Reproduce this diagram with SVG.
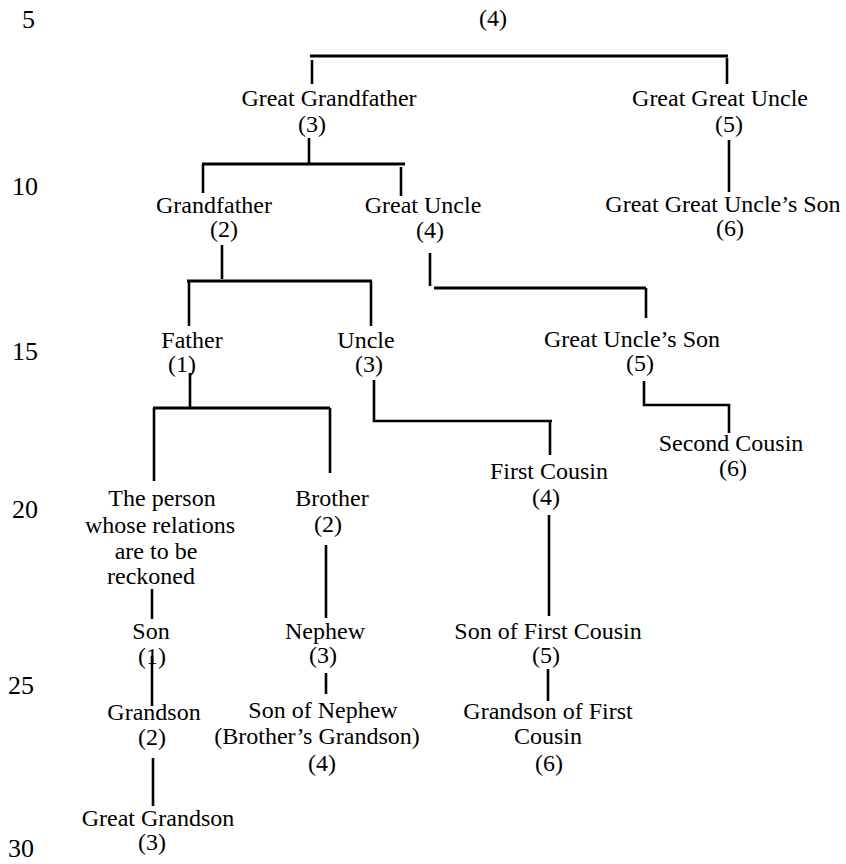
<svg xmlns="http://www.w3.org/2000/svg" width="846" height="864" viewBox="0 0 846 864">
<style>
.l{font-family:"Liberation Serif","Times New Roman",serif;font-size:24px;fill:#000;text-anchor:middle}
.n{font-family:"Liberation Serif","Times New Roman",serif;font-size:26px;fill:#000}
.c{stroke:#000;stroke-width:2.6;fill:none;stroke-linecap:butt}
.b{stroke-width:3.2}
</style>
<rect width="846" height="864" fill="#fff"/>
<g id="line-numbers">
<text class="n" x="22" y="28">5</text>
<text class="n" x="12" y="195">10</text>
<text class="n" x="12" y="360">15</text>
<text class="n" x="12" y="518">20</text>
<text class="n" x="8" y="694">25</text>
<text class="n" x="8" y="857">30</text>
</g>
<g id="connectors">
<path class="c b" d="M310,56 H728"/>
<path class="c" d="M312,60 V84"/>
<path class="c" d="M727,58 V84"/>
<path class="c" d="M309,138 V164"/>
<path class="c b" d="M202,164 H405"/>
<path class="c" d="M203,164 V193"/>
<path class="c" d="M401,167 V196"/>
<path class="c" d="M729,140 V192"/>
<path class="c" d="M222,245 V279"/>
<path class="c b" d="M187,281 H372"/>
<path class="c" d="M189,281 V326"/>
<path class="c" d="M371,281 V326"/>
<path class="c" d="M430,253 V286"/>
<path class="c b" d="M434,288 H646"/>
<path class="c" d="M646,288 V318"/>
<path class="c" d="M190,373 V408"/>
<path class="c b" d="M153,408 H330"/>
<path class="c" d="M154,408 V481"/>
<path class="c" d="M330,408 V473"/>
<path class="c" d="M374,380 V421 H552"/>
<path class="c" d="M550,421 V455"/>
<path class="c" d="M644,381 V405 H729 V433"/>
<path class="c" d="M152,589 V619"/>
<path class="c" d="M152,656 V706"/>
<path class="c" d="M153,758 V806"/>
<path class="c" d="M326,545 V618"/>
<path class="c" d="M326,673 V694"/>
<path class="c" d="M549,515 V616"/>
<path class="c" d="M548,669 V701"/>
</g>
<g id="root"><text class="l" x="493" y="26">(4)</text></g>
<g id="great-grandfather"><text class="l" x="329" y="106">Great Grandfather</text><text class="l" x="312" y="132">(3)</text></g>
<g id="great-great-uncle"><text class="l" x="720" y="106">Great Great Uncle</text><text class="l" x="729" y="132">(5)</text></g>
<g id="grandfather"><text class="l" x="214" y="213">Grandfather</text><text class="l" x="224" y="237">(2)</text></g>
<g id="great-uncle"><text class="l" x="423" y="213">Great Uncle</text><text class="l" x="430" y="238">(4)</text></g>
<g id="great-great-uncles-son"><text class="l" x="723" y="212">Great Great Uncle’s Son</text><text class="l" x="730" y="236">(6)</text></g>
<g id="father"><text class="l" x="192" y="348">Father</text><text class="l" x="182" y="372">(1)</text></g>
<g id="uncle"><text class="l" x="366" y="348">Uncle</text><text class="l" x="369" y="372">(3)</text></g>
<g id="great-uncles-son"><text class="l" x="632" y="347">Great Uncle’s Son</text><text class="l" x="640" y="371">(5)</text></g>
<g id="second-cousin"><text class="l" x="731" y="451">Second Cousin</text><text class="l" x="733" y="476">(6)</text></g>
<g id="first-cousin"><text class="l" x="549" y="479">First Cousin</text><text class="l" x="546" y="505">(4)</text></g>
<g id="person"><text class="l" x="162" y="506">The person</text><text class="l" x="160" y="533">whose relations</text><text class="l" x="156" y="559">are to be</text><text class="l" x="151" y="584">reckoned</text></g>
<g id="brother"><text class="l" x="332" y="506">Brother</text><text class="l" x="328" y="532">(2)</text></g>
<g id="son"><text class="l" x="151" y="639">Son</text><text class="l" x="152" y="664">(1)</text></g>
<g id="nephew"><text class="l" x="325" y="639">Nephew</text><text class="l" x="323" y="663">(3)</text></g>
<g id="son-of-first-cousin"><text class="l" x="548" y="639">Son of First Cousin</text><text class="l" x="546" y="663">(5)</text></g>
<g id="grandson"><text class="l" x="154" y="720">Grandson</text><text class="l" x="152" y="745">(2)</text></g>
<g id="son-of-nephew"><text class="l" x="323" y="718">Son of Nephew</text><text class="l" x="317" y="744">(Brother’s Grandson)</text><text class="l" x="322" y="771">(4)</text></g>
<g id="grandson-of-first-cousin"><text class="l" x="548" y="719">Grandson of First</text><text class="l" x="548" y="744">Cousin</text><text class="l" x="549" y="771">(6)</text></g>
<g id="great-grandson"><text class="l" x="158" y="826">Great Grandson</text><text class="l" x="152" y="850">(3)</text></g>
</svg>
